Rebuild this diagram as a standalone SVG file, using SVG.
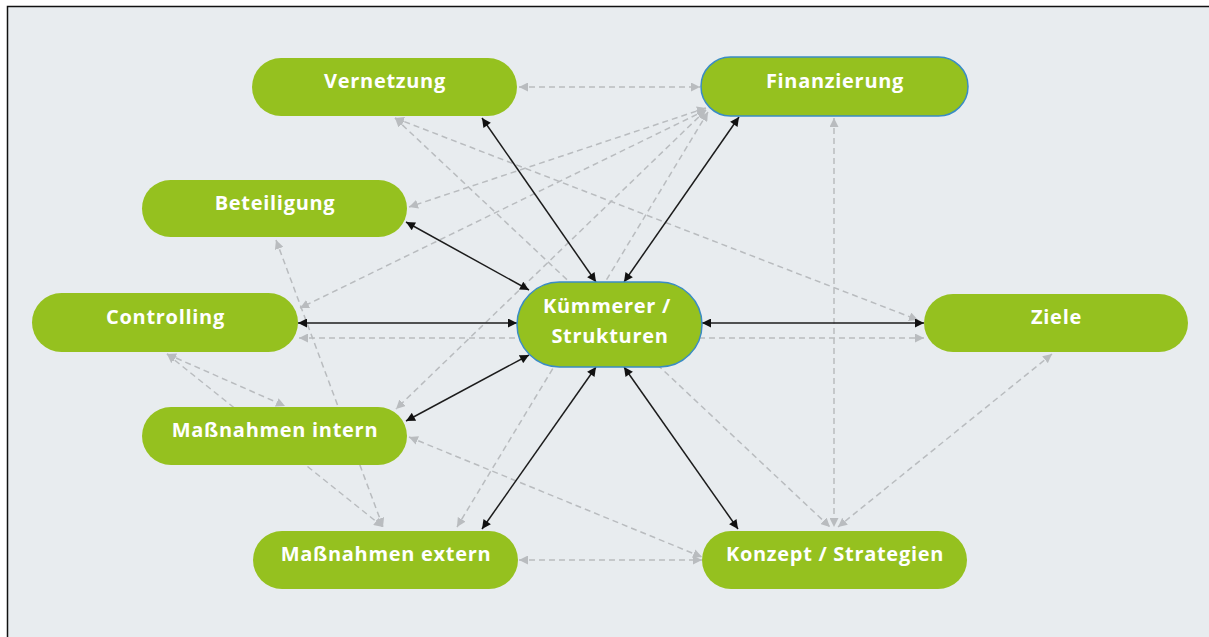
<svg xmlns="http://www.w3.org/2000/svg" width="1209" height="637" viewBox="0 0 1209 637">
<style>
.node rect{fill:#95c11f}
.node.hl rect{stroke:#3a8cc4;stroke-width:1.5}
.node text{fill:#fff;font-family:"Open Sans","DejaVu Sans",sans-serif;font-weight:700;font-size:20px;letter-spacing:0.7px;text-anchor:middle}
.solid{stroke:#1c1c1c;stroke-width:1.5;fill:none;marker-start:url(#ab);marker-end:url(#ab)}
.dash{stroke:#b9bcbf;stroke-width:1.5;fill:none;stroke-dasharray:6 4;marker-start:url(#ag);marker-end:url(#ag)}
</style>
<defs>
<marker id="ab" viewBox="0 0 10 10" refX="10" refY="5" markerWidth="10" markerHeight="9" markerUnits="userSpaceOnUse" orient="auto-start-reverse"><path d="M0,0 L10,5 L0,10 z" fill="#111"/></marker>
<marker id="ag" viewBox="0 0 10 10" refX="10" refY="5" markerWidth="9" markerHeight="9" markerUnits="userSpaceOnUse" orient="auto-start-reverse"><path d="M0,0 L10,5 L0,10 z" fill="#b9bcbf"/></marker>
</defs>
<rect x="0" y="0" width="1209" height="637" fill="#fff"/>
<rect x="7" y="6" width="1202" height="631" fill="#e8ecef"/>
<path d="M7.5,637 V6.5 H1209" stroke="#111" stroke-width="1.5" fill="none"/>
<g id="connectors">
<line class="dash" x1="519" y1="87" x2="700" y2="87"/>
<line class="dash" x1="395" y1="118" x2="918" y2="320"/>
<line class="dash" x1="395" y1="118" x2="830" y2="527"/>
<line class="dash" x1="834" y1="118" x2="834" y2="527"/>
<line class="dash" x1="706" y1="108" x2="409" y2="207"/>
<line class="dash" x1="706" y1="110" x2="300" y2="308"/>
<line class="dash" x1="706" y1="110" x2="396" y2="409"/>
<line class="dash" x1="708" y1="112" x2="457" y2="527"/>
<line class="dash" x1="299" y1="338" x2="924" y2="338"/>
<line class="dash" x1="276" y1="240" x2="383" y2="527"/>
<line class="dash" x1="167" y1="354" x2="285" y2="406"/>
<line class="dash" x1="167" y1="354" x2="383" y2="527"/>
<line class="dash" x1="409" y1="437" x2="702" y2="557"/>
<line class="dash" x1="519" y1="560" x2="702" y2="560"/>
<line class="dash" x1="1052" y1="354" x2="838" y2="527"/>
<line class="solid" x1="482" y1="118" x2="596" y2="282"/>
<line class="solid" x1="739" y1="117" x2="624" y2="282"/>
<line class="solid" x1="406" y1="222" x2="529" y2="290"/>
<line class="solid" x1="298" y1="323" x2="517" y2="323"/>
<line class="solid" x1="702" y1="323" x2="924" y2="323"/>
<line class="solid" x1="406" y1="421" x2="529" y2="355"/>
<line class="solid" x1="482" y1="529" x2="596" y2="367"/>
<line class="solid" x1="624" y1="367" x2="738" y2="529"/>
</g>
<g id="vernetzung" class="node"><rect x="252" y="58" width="265" height="58" rx="29"/><text x="385" y="88">Vernetzung</text></g>
<g id="finanzierung" class="node hl"><rect x="701" y="57" width="267" height="59" rx="29.5"/><text x="835" y="88">Finanzierung</text></g>
<g id="beteiligung" class="node"><rect x="142" y="180" width="265" height="57" rx="28.5"/><text x="275" y="210">Beteiligung</text></g>
<g id="controlling" class="node"><rect x="32" y="293" width="266" height="59" rx="29.5"/><text x="165.5" y="324">Controlling</text></g>
<g id="kuemmerer" class="node hl"><rect x="517" y="282" width="185" height="85" rx="42.5"/><text x="607" y="313">Kümmerer /</text><text x="610" y="343">Strukturen</text></g>
<g id="ziele" class="node"><rect x="924" y="294" width="264" height="58" rx="29"/><text x="1056.5" y="324">Ziele</text></g>
<g id="massnahmen-intern" class="node"><rect x="142" y="407" width="265" height="58" rx="29"/><text x="275" y="437">Maßnahmen intern</text></g>
<g id="massnahmen-extern" class="node"><rect x="253" y="531" width="265" height="58" rx="29"/><text x="386" y="561">Maßnahmen extern</text></g>
<g id="konzept" class="node"><rect x="702" y="531" width="265" height="58" rx="29"/><text x="835" y="561">Konzept / Strategien</text></g>
</svg>
